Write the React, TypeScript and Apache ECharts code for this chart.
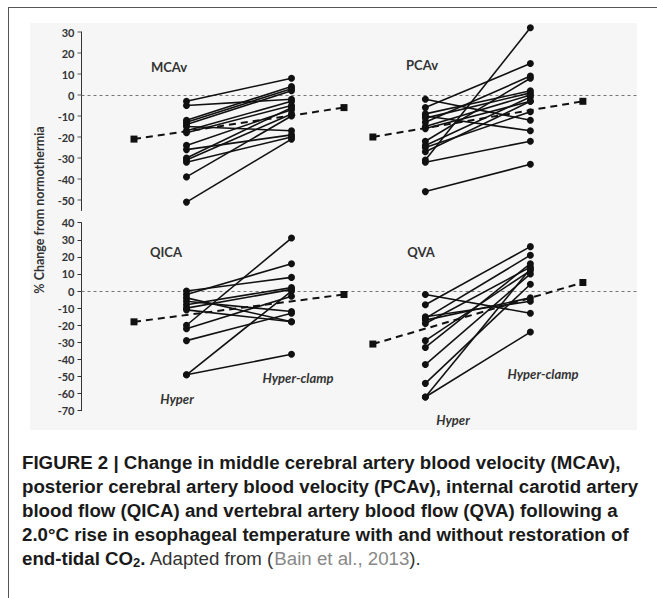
import React, { useEffect, useRef } from "react";
import * as echarts from "echarts";

// ---- data (percent change from normothermia) ----
const mcavHyper = [-3, -5, -12, -13, -14, -15, -17, -18, -24, -26, -30, -31, -32, -39, -51];
const mcavClamp = [8, -2, 4, 3, 2, -17, -3, -5, -7, -19, -6, -9, -20, -10, -21];
const mcavMean = [-21, -6];

const pcavHyper = [-2, -6, -9, -10, -11, -13, -15, -16, -22, -24, -25, -27, -31, -32, -46];
const pcavClamp = [-12, 15, 2, -17, 1, 9, 0, -3, 8, -1, -8, -3, 32, -22, -33];
const pcavMean = [-20, -3];

const qicaHyper = [-49, -49, -20, 0, -2, -4, -6, -8, -10, -11, -22, -29];
const qicaClamp = [-37, 0, 31, 8, 16, -18, -12, 2, 1, -18, -3, -13];
const qicaMean = [-18, -2];

const qvaHyper = [-2, -8, -16, -17, -19, -15, -29, -33, -43, -54, -62, -62];
const qvaClamp = [-13, 26, 21, -4, 14, -6, 12, 16, 10, 4, 13, -24];
const qvaMean = [-31, 5];

const topTicks = [30, 20, 10, 0, -10, -20, -30, -40, -50];

const panelTitles = ["MCAv", "PCAv", "QICA", "QVA"];
const conditionLabels = ["Hyper", "Hyper-clamp"];
const yTitle = "% Change from normothermia";

// ---- layout constants ----
const MEAN_H_X = 1;
const HYPER_X = 2;
const CLAMP_X = 4;
const MEAN_C_X = 5;
const RIGHT_OFF = 4.55;
const INK = "#111";

function pairSeries(hyper: number[], clamp: number[], off: number, g: number) {
  return hyper.map((h, i) => ({
    type: "line",
    xAxisIndex: g,
    yAxisIndex: g,
    data: [
      [HYPER_X + off, h],
      [CLAMP_X + off, clamp[i]],
    ],
    symbol: "circle",
    symbolSize: 7,
    showSymbol: true,
    clip: false,
    lineStyle: { color: INK, width: 1.6 },
    itemStyle: { color: INK },
    silent: true,
    z: 3,
  }));
}

function meanSeries(mean: number[], off: number, g: number, zero: boolean) {
  const s: any = {
    type: "line",
    xAxisIndex: g,
    yAxisIndex: g,
    data: [
      [MEAN_H_X + off, mean[0]],
      [MEAN_C_X + off, mean[1]],
    ],
    symbol: "rect",
    symbolSize: 7,
    clip: false,
    lineStyle: { color: INK, width: 2, type: [7, 5] },
    itemStyle: { color: INK },
    silent: true,
    z: 4,
  };
  if (zero) {
    s.markLine = {
      silent: true,
      symbol: "none",
      label: { show: false },
      lineStyle: { type: [3, 3], color: "#777", width: 1 },
      data: [{ yAxis: 0 }],
      z: 1,
    };
  }
  return s;
}

const labelFont = { fontFamily: "Lato, 'Open Sans', sans-serif", fontWeight: "bold" as const, color: "#333" };
const capFont = "'Liberation Sans', Arial, sans-serif";
const capSize = 18.7;

export default function App() {
  const ref = useRef<HTMLDivElement>(null);
  useEffect(() => {
    const chart = echarts.init(ref.current!, null, { renderer: "svg", width: 657, height: 598 });
    const option: any = {
      animation: false,
      backgroundColor: "#ffffff",
      grid: [
        { left: 81.5, top: 32, width: 556.5, height: 178.5 },
        { left: 81.5, top: 222.7, width: 556.5, height: 188 },
      ],
      xAxis: [
        { gridIndex: 0, type: "value", min: 0, max: 10.6, show: false },
        { gridIndex: 1, type: "value", min: 0, max: 10.6, show: false },
      ],
      yAxis: [
        {
          gridIndex: 0,
          type: "value",
          min: -55,
          max: 30,
          interval: 5,
          axisLine: { show: true, lineStyle: { color: "#333", width: 1 } },
          axisTick: { show: false },
          splitLine: { show: false },
          axisLabel: {
            ...labelFont,
            fontSize: 11,
            margin: 7,
            formatter: (v: number) => (v % 10 === 0 ? String(v) : ""),
          },
        },
        {
          gridIndex: 1,
          type: "value",
          min: -70,
          max: 40,
          interval: 10,
          axisLine: { show: true, lineStyle: { color: "#333", width: 1 } },
          axisTick: { show: true, length: 4, lineStyle: { color: "#333" } },
          splitLine: { show: false },
          axisLabel: { ...labelFont, fontSize: 11, margin: 7 },
        },
      ],
      series: [
        {
          type: "scatter",
          xAxisIndex: 0,
          yAxisIndex: 0,
          data: topTicks.map((v) => [0, v]),
          symbol: "rect",
          symbolSize: [4, 1],
          symbolOffset: [-2, 0],
          itemStyle: { color: "#333" },
          clip: false,
          silent: true,
        },
        ...pairSeries(mcavHyper, mcavClamp, 0, 0),
        ...pairSeries(pcavHyper, pcavClamp, RIGHT_OFF, 0),
        ...pairSeries(qicaHyper, qicaClamp, 0, 1),
        ...pairSeries(qvaHyper, qvaClamp, RIGHT_OFF, 1),
        meanSeries(mcavMean, 0, 0, true),
        meanSeries(pcavMean, RIGHT_OFF, 0, false),
        meanSeries(qicaMean, 0, 1, true),
        meanSeries(qvaMean, RIGHT_OFF, 1, false),
      ],
      graphic: [
        { type: "rect", z: -10, silent: true, shape: { x: 30, y: 23, width: 607, height: 407 }, style: { fill: "#f6f6f6" } },
        { type: "line", silent: true, shape: { x1: 8, y1: 7.5, x2: 657, y2: 7.5 }, style: { stroke: "#555", lineWidth: 1 } },
        { type: "line", silent: true, shape: { x1: 8.5, y1: 7, x2: 8.5, y2: 598 }, style: { stroke: "#555", lineWidth: 1 } },
        ...[
          [169, 67],
          [422, 65],
          [166, 252],
          [421, 252],
        ].map((p, i) => ({
          type: "text",
          x: p[0],
          y: p[1],
          silent: true,
          style: {
            text: panelTitles[i],
            fontFamily: "Lato, sans-serif",
            fontWeight: "bold",
            fontSize: 13,
            fill: "#333",
            align: "center",
            verticalAlign: "middle",
          },
        })),
        ...[
          [177, 399, 0],
          [298, 378, 1],
          [453, 420, 0],
          [543, 374, 1],
        ].map((p) => ({
          type: "text",
          x: p[0],
          y: p[1],
          silent: true,
          style: {
            text: conditionLabels[p[2]],
            fontFamily: "Lato, sans-serif",
            fontWeight: "bold",
            fontStyle: "italic",
            fontSize: 13,
            fill: "#333",
            align: "center",
            verticalAlign: "middle",
          },
        })),
        {
          type: "text",
          x: 39,
          y: 210,
          rotation: Math.PI / 2,
          silent: true,
          style: {
            text: yTitle,
            fontFamily: "Lato, sans-serif",
            fontWeight: "bold",
            fontSize: 12.5,
            fill: "#333",
            align: "center",
            verticalAlign: "middle",
          },
        },
        {
          type: "text",
          x: 22,
          y: 450,
          silent: true,
          style: {
            text:
              "{b|FIGURE 2 | Change in middle cerebral artery blood velocity (MCAv),}\n" +
              "{b|posterior cerebral artery blood velocity (PCAv), internal carotid artery}\n" +
              "{b|blood flow (QICA) and vertebral artery blood flow (QVA) following a}\n" +
              "{b|2.0°C rise in esophageal temperature with and without restoration of}\n" +
              "{b|end-tidal CO}{s|2}{b|.}{n| Adapted from (}{g|Bain et al., 2013}{n|).}",
            rich: {
              b: { fontFamily: capFont, fontWeight: "bold", fontSize: capSize, fill: "#1a1a1a", lineHeight: 24 },
              s: { fontFamily: capFont, fontWeight: "bold", fontSize: 13, fill: "#1a1a1a", lineHeight: 24, padding: [8, 0, 0, 0] },
              n: { fontFamily: capFont, fontSize: capSize, fill: "#333", lineHeight: 24 },
              g: { fontFamily: capFont, fontSize: capSize, fill: "#888", lineHeight: 24 },
            },
          },
        },
      ],
    };
    chart.setOption(option);
    return () => chart.dispose();
  }, []);
  return <div ref={ref} style={{ position: "absolute", left: 0, top: 0, width: 657, height: 598 }} />;
}
